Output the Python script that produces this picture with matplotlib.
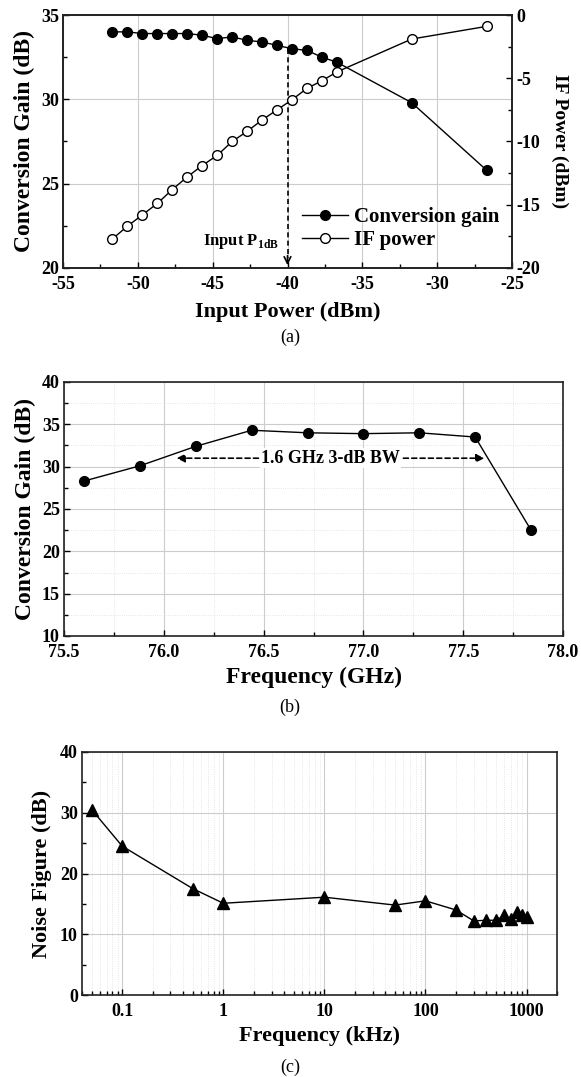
import numpy as np
import matplotlib
matplotlib.use('Agg')
from matplotlib import pyplot as plt
from matplotlib.ticker import MultipleLocator, LogLocator, FixedLocator, FixedFormatter, NullFormatter

plt.rcParams['font.family'] = 'Liberation Serif'
plt.rcParams['font.weight'] = 'bold'
plt.rcParams['axes.labelweight'] = 'bold'
plt.rcParams['axes.unicode_minus'] = False
plt.rcParams['mathtext.fontset'] = 'custom'
plt.rcParams['mathtext.rm'] = 'Liberation Serif:bold'
plt.rcParams['mathtext.bf'] = 'Liberation Serif:bold'

# (a) conversion gain / IF power vs input power
pin = [-51.7, -50.7, -49.7, -48.7, -47.7, -46.7, -45.7, -44.7, -43.7, -42.7,
       -41.7, -40.7, -39.7, -38.7, -37.7, -36.7, -31.7, -26.7]
conv_gain = [34.0, 34.0, 33.9, 33.9, 33.9, 33.9, 33.8, 33.6, 33.7, 33.5,
             33.4, 33.2, 33.0, 32.9, 32.5, 32.2, 29.8, 25.8]
if_power = [-17.7, -16.7, -15.8, -14.9, -13.8, -12.8, -11.9, -11.1, -10.0, -9.2,
            -8.3, -7.5, -6.7, -5.8, -5.2, -4.5, -1.9, -0.9]
p1db = -40.0
p1db_gain = 33.0

# (b) conversion gain vs RF frequency
freq_ghz = [75.60, 75.88, 76.16, 76.44, 76.72, 77.00, 77.28, 77.56, 77.84]
gain_ghz = [28.3, 30.1, 32.4, 34.3, 34.0, 33.9, 34.0, 33.5, 22.5]
bw_lo, bw_hi, bw_level = 76.05, 77.62, 31.0

# (c) noise figure vs IF frequency
freq_khz = [0.05, 0.1, 0.5, 1, 10, 50, 100, 200, 300, 400, 500, 600, 700, 800, 900, 1000]
nf = [30.5, 24.5, 17.5, 15.1, 16.1, 14.8, 15.5, 14.0, 12.2, 12.3, 12.3, 13.1, 12.5, 13.6, 13.2, 12.9]

W, H = 581, 1077
fig = plt.figure(figsize=(W / 100, H / 100), dpi=100)

def box(left, top, right, bottom):
    return [left / W, 1 - bottom / H, (right - left) / W, (bottom - top) / H]

grid_col = '#cccccc'
tick_fs = 13

def style(ax):
    for s in ax.spines.values():
        s.set_linewidth(1.2)
        s.set_color('#222222')
    ax.tick_params(which='both', direction='in', top=False, right=False, labelsize=tick_fs, width=1, pad=3)
    ax.tick_params(axis='x', which='both', pad=6)
    ax.tick_params(which='major', length=4)
    ax.tick_params(which='minor', length=3)

# ---------- panel (a)
ax = fig.add_axes(box(63, 15, 512, 268))
style(ax)
ax.set_xlim(-55, -25)
ax.set_ylim(20, 35)
ax.xaxis.set_major_locator(MultipleLocator(5))
ax.xaxis.set_minor_locator(MultipleLocator(2.5))
ax.yaxis.set_major_locator(MultipleLocator(5))
ax.yaxis.set_minor_locator(MultipleLocator(2.5))
ax.grid(True, which='major', color=grid_col, lw=0.8)
ax.set_axisbelow(True)
l1, = ax.plot(pin, conv_gain, '-o', color='k', lw=1, ms=7, mfc='k', mec='k', label='Conversion gain', zorder=3)
ax.set_xlabel('Input Power (dBm)', fontsize=16, labelpad=6)
ax.set_ylabel('Conversion Gain (dB)', fontsize=17, labelpad=4)

ax2 = ax.twinx()
style(ax2)
ax2.tick_params(which='both', left=False, right=True, labelright=True)
ax2.set_ylim(-20, 0)
ax2.yaxis.set_major_locator(MultipleLocator(5))
ax2.yaxis.set_minor_locator(MultipleLocator(2.5))
l2, = ax2.plot(pin, if_power, '-o', color='k', lw=1, ms=7, mfc='white', mec='k', label='IF power', zorder=3)
ax2.set_ylabel('IF Power (dBm)', fontsize=14, rotation=270, labelpad=20)

ax.plot([p1db, p1db], [p1db_gain, 20.6], ls=(0, (3, 2)), color='k', lw=1.2, zorder=4)
ax.annotate('', xy=(p1db, 20.0), xytext=(p1db, 20.9),
            arrowprops=dict(arrowstyle='->', color='k', lw=1.2, mutation_scale=12), zorder=4)
ax.text(p1db - 0.6, 21.6, 'Input P$_{\\mathrm{1dB}}$', fontsize=12, ha='right', va='center')

leg = ax.legend([l1, l2], ['Conversion gain', 'IF power'], loc='lower right',
                bbox_to_anchor=(1.0, 0.02), frameon=False, fontsize=15,
                handlelength=2.2, handletextpad=0.3, labelspacing=0.15, borderaxespad=0.2)
fig.text(290 / W, 1 - 337 / H, '(a)', ha='center', va='center', fontsize=13, fontweight='normal')

# ---------- panel (b)
bx = fig.add_axes(box(64, 382, 563, 636))
style(bx)
bx.set_xlim(75.5, 78.0)
bx.set_ylim(10, 40)
bx.xaxis.set_major_locator(MultipleLocator(0.5))
bx.xaxis.set_minor_locator(MultipleLocator(0.25))
bx.yaxis.set_major_locator(MultipleLocator(5))
bx.yaxis.set_minor_locator(MultipleLocator(2.5))
bx.xaxis.set_major_formatter(matplotlib.ticker.FormatStrFormatter('%.1f'))
bx.grid(True, which='major', color=grid_col, lw=0.8)
bx.grid(True, which='minor', color='#dddddd', lw=0.6, ls=':')
bx.set_axisbelow(True)
bx.plot(freq_ghz, gain_ghz, '-o', color='k', lw=1, ms=7, zorder=3)
bx.annotate('', xy=(bw_hi, bw_level), xytext=(bw_lo, bw_level),
            arrowprops=dict(arrowstyle='<|-|>', color='k', lw=1.2, ls=(0, (3, 2)), mutation_scale=12))
bx.text((bw_lo + bw_hi) / 2, bw_level, '1.6 GHz 3-dB BW', fontsize=13, ha='center', va='center',
        bbox=dict(facecolor='white', edgecolor='none', pad=1))
bx.set_xlabel('Frequency (GHz)', fontsize=17, labelpad=4)
bx.set_ylabel('Conversion Gain (dB)', fontsize=17, labelpad=4)
fig.text(290 / W, 1 - 707 / H, '(b)', ha='center', va='center', fontsize=13, fontweight='normal')

# ---------- panel (c)
cx = fig.add_axes(box(82, 752, 557, 995))
style(cx)
cx.set_xscale('log')
cx.set_xlim(0.04, 2000)
cx.set_ylim(0, 40)
cx.xaxis.set_major_locator(FixedLocator([0.1, 1, 10, 100, 1000]))
cx.xaxis.set_major_formatter(FixedFormatter(['0.1', '1', '10', '100', '1000']))
cx.xaxis.set_minor_locator(LogLocator(base=10, subs=np.arange(2, 10)))
cx.xaxis.set_minor_formatter(NullFormatter())
cx.yaxis.set_major_locator(MultipleLocator(10))
cx.yaxis.set_minor_locator(MultipleLocator(5))
cx.grid(True, which='major', color=grid_col, lw=0.8)
cx.grid(True, which='minor', axis='x', color='#dddddd', lw=0.6, ls=':')
cx.set_axisbelow(True)
cx.plot(freq_khz, nf, '-^', color='k', lw=1, ms=8, zorder=3)
cx.set_xlabel('Frequency (kHz)', fontsize=16, labelpad=4)
cx.set_ylabel('Noise Figure (dB)', fontsize=16, labelpad=6)
fig.text(290 / W, 1 - 1067 / H, '(c)', ha='center', va='center', fontsize=13, fontweight='normal')

fig.savefig('out.png', dpi=100)
